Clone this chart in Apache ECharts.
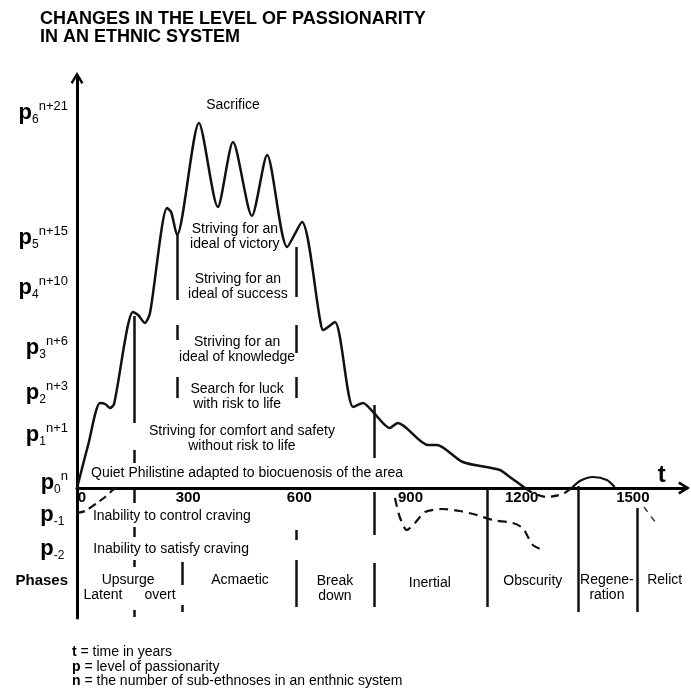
<!DOCTYPE html>
<html>
<head>
<meta charset="utf-8">
<title>Changes in the level of passionarity</title>
<script src="https://cdn.jsdelivr.net/npm/echarts@6/dist/echarts.min.js"></script>
<style>
  html, body { margin: 0; padding: 0; background: #fff; }
  #chart { width: 691px; height: 688px; }
</style>
</head>
<body>
<div id="chart"></div>
<script>
// t = years, p = passionarity level (arbitrary units, 0 = p0 on the t axis)
const FONT = "'Liberation Sans', Arial, sans-serif";

const xTicks = [0, 300, 600, 900, 1200, 1500];

// p-levels on the vertical axis
const levelValues = [37.5, 25.0, 20.0, 14.0, 9.5, 5.3, 0.5, -2.7, -6.1, -9.3];
const levelSub    = ['6', '5', '4', '3', '2', '1', '0', '-1', '-2', null];
const levelSup    = ['n+21', 'n+15', 'n+10', 'n+6', 'n+3', 'n+1', 'n', '', '', null];

// main passionarity curve [year, level]
const mainCurve = [
  [0, 0], [30, 4.3], [62, 8.5], [76, 8.4], [89, 8.0], [100, 8.4],
  [151, 17.6], [165, 17.3], [183, 16.5], [197, 17.5], [243, 28.0], [254, 27.6],
  [270, 25.3], [329, 36.5], [380, 28.1], [421, 34.6], [472, 27.2], [513, 33.3],
  [567, 24.1], [607, 26.6], [656, 16.8], [664, 15.8], [696, 16.6], [745, 8.1],
  [772, 8.5], [799, 7.6], [844, 6.0], [866, 6.5], [947, 4.3], [971, 4.3],
  [1041, 2.6], [1141, 1.8], [1168, 1.1], [1209, 0]
];
const obscurityDip   = [[1209, 0], [1230, -0.5], [1268, -0.9], [1311, -0.6], [1335, 0]];
const regenHump      = [[1335, 0], [1357, 0.7], [1392, 1.1], [1430, 0.8], [1451, 0.1]];
const relictTail     = [[1530, -1.9], [1548, -2.8], [1567, -3.7]];
const lowerInertial  = [
  [858, -1.0], [871, -2.9], [890, -4.2], [912, -3.5], [939, -2.4], [985, -2.1],
  [1033, -2.3], [1079, -2.7], [1122, -3.2], [1176, -3.5], [1203, -4.0],
  [1217, -4.9], [1230, -5.7], [1262, -6.3]
];
const latentCurve    = [[0, -2.5], [22, -2.3], [54, -1.5], [76, -0.9], [97, -0.2], [111, 0.1]];

// phase boundaries: [year, from level, to level]
const boundaries = [
  [155, 17.2, 6.5], [155, 3.8, 2.5], [155, -0.2, -1.5], [155, -3.9, -4.9], [155, -7.2, -7.9], [155, -12.2, -12.9],
  [270, 25.3, 18.8], [270, 16.3, 14.8], [270, 11.1, 9.0],
  [283, -7.4, -9.7], [283, -11.7, -12.4],
  [591, 24.1, 19.1], [591, 16.3, 13.5], [591, 11.1, 9.0], [591, -4.2, -5.2], [591, -7.2, -11.9],
  [801, 8.3, 3.0], [801, -0.4, -4.7], [801, -7.5, -11.9],
  [1106, -0.2, -11.9],
  [1352, 0.2, -12.4],
  [1511, -2.0, -12.4]
];

// texts inside the plot and where they sit
const noteTexts = [
  'Sacrifice',
  'Striving for an\nideal of victory',
  'Striving for an\nideal of success',
  'Striving for an\nideal of knowledge',
  'Search for luck\nwith risk to life',
  'Striving for comfort and safety\nwithout risk to life',
  'Quiet Philistine adapted to biocuenosis of the area',
  'Inability to control craving',
  'Inability to satisfy craving'
];
const noteAnchors = [
  [421, 38.3], [426, 25.1], [434, 20.1], [432, 13.8], [432, 9.1],
  [445, 4.9], [459, 1.5], [256, -2.8], [254, -6.1]
];
const phaseTexts = ['Upsurge', 'Latent', 'overt', 'Acmaetic', 'Break\ndown', 'Inertial', 'Obscurity', 'Regene-\nration', 'Relict'];
const phaseAnchors = [
  [138, -9.2], [70, -10.7], [224, -10.7], [440, -9.2], [696, -10.1],
  [952, -9.5], [1230, -9.3], [1430, -10.0], [1586, -9.2]
];

const chevron = 'path://M5,0 L10,8.2 L8.4,9.4 L5,3.6 L1.6,9.4 L0,8.2 Z';

function textSeries(texts, anchors, label) {
  return {
    type: 'scatter',
    symbolSize: 0,
    silent: true,
    itemStyle: { color: '#000', opacity: 1 },
    data: texts.map(function (t, i) { return { value: anchors[i], name: t }; }),
    label: Object.assign({
      show: true, position: 'inside', formatter: '{b}', opacity: 1,
      color: '#000', textBorderWidth: 0, fontFamily: FONT, fontSize: 14, lineHeight: 15
    }, label || {})
  };
}

function curve(data, style) {
  return {
    type: 'line',
    data: data,
    smooth: 0.25,
    symbol: 'none',
    silent: true,
    lineStyle: Object.assign({ color: '#111', width: 2.5 }, style || {})
  };
}

const chart = echarts.init(document.getElementById('chart'));

chart.setOption({
  animation: false,
  backgroundColor: '#fff',
  title: [{
    text: 'CHANGES IN THE LEVEL OF PASSIONARITY\nIN AN ETHNIC SYSTEM',
    left: 40, top: 10, padding: 0,
    textStyle: { fontFamily: FONT, fontSize: 18, fontWeight: 'bold', color: '#000', lineHeight: 18 }
  }, {
    text: '{b|t} = time in years\n{b|p} = level of passionarity\n{b|n} = the number of sub-ethnoses in an enthnic system',
    left: 72, top: 645, padding: 0,
    textStyle: {
      fontFamily: FONT, fontSize: 14, fontWeight: 'normal', color: '#000', lineHeight: 14.5,
      rich: { b: { fontFamily: FONT, fontSize: 14, fontWeight: 'bold', lineHeight: 14.5 } }
    }
  }],
  grid: { left: 77, right: 7, top: 78, bottom: 70, containLabel: false },
  xAxis: {
    type: 'value',
    min: 0, max: 1638,
    offset: -130,
    splitLine: { show: false },
    axisTick: { show: false },
    axisLine: {
      onZero: false,
      symbol: ['none', chevron],
      symbolSize: [13, 12],
      lineStyle: { color: '#000', width: 3 }
    },
    axisLabel: {
      customValues: xTicks,
      margin: 2,
      color: '#000', fontFamily: FONT, fontSize: 15, fontWeight: 'bold',
      formatter: function (v) { return v === 0 ? '{z|0}' : String(v); },
      rich: { z: { fontFamily: FONT, fontSize: 15, fontWeight: 'bold', padding: [0, 0, 0, 10] } }
    }
  },
  yAxis: {
    type: 'value',
    min: -13, max: 41,
    splitLine: { show: false },
    axisTick: { show: false },
    axisLine: {
      symbol: ['none', chevron],
      symbolSize: [13, 12],
      lineStyle: { color: '#000', width: 3 }
    },
    axisLabel: {
      customValues: levelValues,
      margin: 9,
      color: '#000', fontFamily: FONT,
      formatter: function (v) {
        const i = levelValues.findIndex(function (l) { return Math.abs(l - v) < 0.01; });
        if (i < 0) return '';
        if (levelSub[i] === null) return '{ph|Phases}';
        return '{p|p}{sub|' + levelSub[i] + '}' + (levelSup[i] ? '{sup|' + levelSup[i] + '}' : '{sup| }');
      },
      rich: {
        p:   { fontFamily: FONT, fontSize: 22, fontWeight: 'bold', lineHeight: 26 },
        sub: { fontFamily: FONT, fontSize: 12, lineHeight: 12, verticalAlign: 'bottom' },
        sup: { fontFamily: FONT, fontSize: 13, lineHeight: 14, verticalAlign: 'top' },
        ph:  { fontFamily: FONT, fontSize: 15, fontWeight: 'bold' }
      }
    }
  },
  series: [
    Object.assign(curve(mainCurve), {
      markLine: {
        silent: true,
        symbol: ['none', 'none'],
        label: { show: false },
        lineStyle: { color: '#111', width: 2.5, type: 'solid' },
        data: boundaries.map(function (b) {
          return [{ coord: [b[0], b[1]] }, { coord: [b[0], b[2]] }];
        })
      }
    }),
    curve(obscurityDip, { type: [8, 6], width: 2.2 }),
    curve(regenHump, { width: 2.2 }),
    curve(relictTail, { type: [6, 6], width: 1.6, color: '#444' }),
    curve(lowerInertial, { type: [9, 6], width: 2.2 }),
    curve(latentCurve, { type: [8, 5], width: 2.2 }),
    textSeries(noteTexts, noteAnchors),
    textSeries(phaseTexts, phaseAnchors),
    textSeries(['t'], [[1578, 1.3]], { fontSize: 24, fontWeight: 'bold' })
  ]
});
</script>
</body>
</html>
